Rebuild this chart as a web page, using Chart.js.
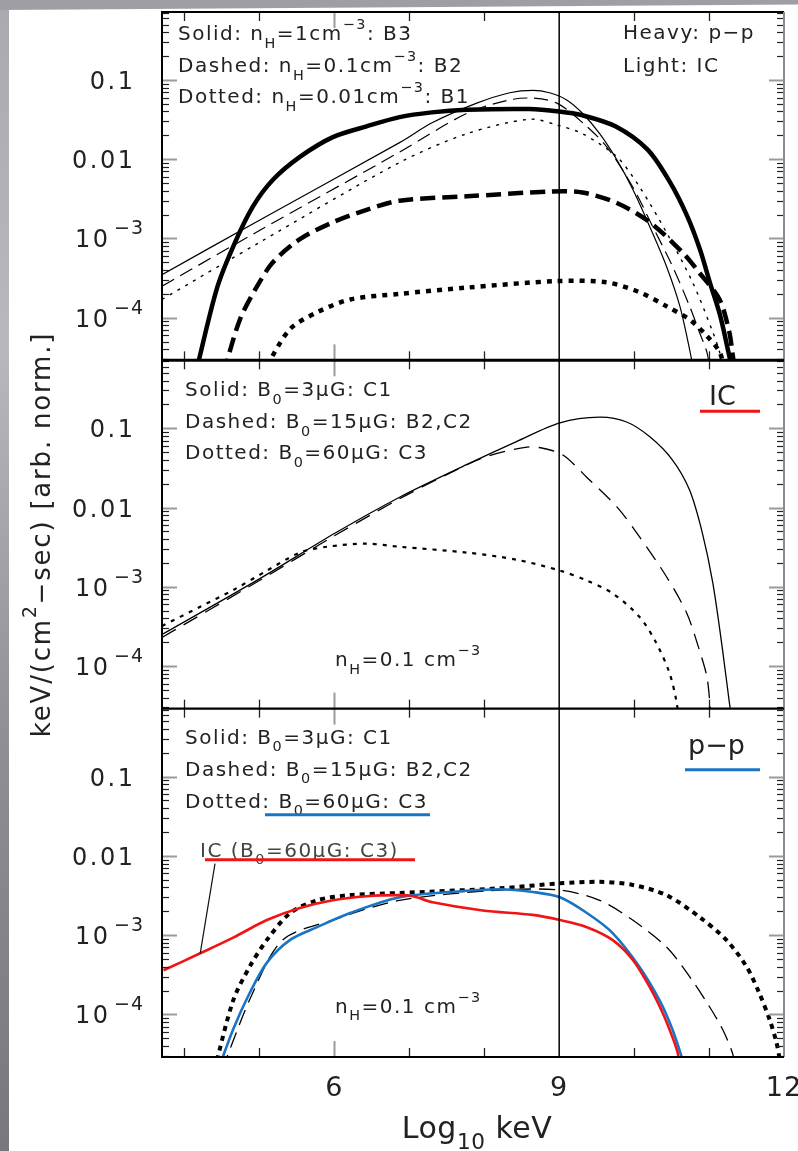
<!doctype html>
<html>

<head>
    <title>Spectra</title>
    <script src="https://cdn.jsdelivr.net/npm/chart.js"></script>
    <style>
        body { margin: 0; background: #fff; }
        #box { position: relative; width: 798px; height: 1151px; overflow: hidden; }
        #plot { position: absolute; left: 0; top: 0; width: 798px; height: 1151px; }
        #sideBar { position: absolute; left: 0; top: 0; width: 9px; height: 100%;
            background: linear-gradient(#a9a9af, #b8b8be 30%, #8e8e94 65%, #77777d); }
        #topBar { position: absolute; left: 0; top: 0; width: 100%; height: 10px; background: #9e9ea4;
            clip-path: polygon(0 0, 100% 0, 100% 45%, 0 100%); }
    </style>
</head>

<body>
    <div id="box">
        <div id="plot"><canvas id="spectra"></canvas></div>
        <div id="sideBar"></div>
        <div id="topBar"></div>
    </div>

    <script>
        // ---- data (x = log10 keV) ----
        // top panel: p-p (heavy) and IC (light) for three densities
        const xPpN1 = [4.15, 4.43, 4.65, 4.91, 5.18, 5.54, 5.98, 6.43, 6.87, 7.3, 7.76, 8.6, 9.0, 9.3, 9.75, 10.18, 10.48, 10.71, 10.88, 11.01, 11.15, 11.25, 11.32];
        const ppN1 = [2.0e-5, 2.3e-4, 7.9e-4, 2.5e-3, 5.5e-3, 0.0107, 0.019, 0.026, 0.034, 0.039, 0.042, 0.043, 0.040, 0.036, 0.026, 0.0132, 5.1e-3, 1.9e-3, 7.2e-4, 2.8e-4, 1.05e-4, 4.0e-5, 2.0e-5];
        const xPpN01 = [4.52, 4.74, 4.97, 5.18, 5.54, 5.98, 6.43, 6.87, 7.77, 8.87, 9.31, 9.77, 10.21, 10.65, 10.87, 11.14, 11.27, 11.31, 11.35];
        const ppN01 = [2.0e-5, 9.5e-5, 2.5e-4, 5.0e-4, 9.8e-4, 1.6e-3, 2.3e-3, 3.0e-3, 3.4e-3, 3.9e-3, 3.8e-3, 2.8e-3, 1.6e-3, 6.6e-4, 3.7e-4, 1.7e-4, 6.6e-5, 3.7e-5, 2.0e-5];
        const xPpN001 = [5.1, 5.41, 5.77, 6.21, 6.87, 7.77, 8.97, 9.63, 10.07, 10.43, 10.74, 10.97, 11.14, 11.22];
        const ppN001 = [2.5e-5, 7.2e-5, 1.17e-4, 1.7e-4, 2.0e-4, 2.4e-4, 2.9e-4, 2.8e-4, 2.1e-4, 1.4e-4, 9.5e-5, 5.9e-5, 3.7e-5, 2.0e-5];
        const xIcN1 = [3.7, 5.0, 6.87, 7.31, 7.90, 8.34, 8.65, 8.87, 9.10, 9.31, 9.54, 9.77, 9.98, 10.21, 10.43, 10.61, 10.74, 10.80];
        const icN1 = [3.5e-4, 1.7e-3, 0.0162, 0.029, 0.051, 0.069, 0.074, 0.069, 0.056, 0.038, 0.021, 9.8e-3, 4.2e-3, 1.4e-3, 4.5e-4, 1.4e-4, 4.0e-5, 2.0e-5];
        const xIcN01 = [3.7, 5.0, 6.87, 7.77, 8.34, 8.65, 8.97, 9.31, 9.63, 9.98, 10.25, 10.51, 10.74, 10.87, 10.97, 11.02];
        const icN01 = [2.5e-4, 1.26e-3, 0.0123, 0.038, 0.056, 0.059, 0.051, 0.029, 0.0145, 4.5e-3, 1.4e-3, 4.5e-4, 1.4e-4, 6.6e-5, 3.7e-5, 2.0e-5];
        const xIcN001 = [3.7, 5.0, 6.87, 7.77, 8.61, 8.97, 9.31, 9.77, 10.07, 10.43, 10.78, 11.05, 11.14, 11.2];
        const icN001 = [1.7e-4, 8.9e-4, 9.1e-3, 0.021, 0.032, 0.027, 0.021, 0.0107, 4.5e-3, 1.2e-3, 2.8e-4, 6.6e-5, 3.7e-5, 2.0e-5];

        // middle panel: IC for three field strengths
        const xIcC1 = [3.7, 5.0, 6.0, 6.87, 7.77, 8.43, 9.01, 9.54, 9.90, 10.21, 10.51, 10.74, 10.91, 11.05, 11.18, 11.27, 11.31];
        const icC1 = [2.5e-4, 1.26e-3, 4.7e-3, 0.0135, 0.035, 0.068, 0.117, 0.138, 0.120, 0.078, 0.040, 0.0166, 4.8e-3, 1.12e-3, 1.6e-4, 3.5e-5, 2.0e-5];
        const xIcC2 = [3.7, 5.0, 6.0, 6.87, 7.5, 8.03, 8.57, 8.78, 9.05, 9.37, 9.77, 10.07, 10.43, 10.70, 10.87, 10.97, 11.01, 11.03];
        const icC2 = [2.3e-4, 1.2e-3, 4.4e-3, 0.0129, 0.026, 0.044, 0.058, 0.056, 0.046, 0.024, 0.0102, 4.3e-3, 1.35e-3, 4.7e-4, 1.6e-4, 7.4e-5, 3.5e-5, 2.0e-5];
        const xIcC3 = [3.7, 4.21, 4.65, 5.1, 5.54, 5.9, 6.43, 6.87, 7.77, 8.43, 9.01, 9.37, 9.71, 10.07, 10.29, 10.47, 10.56, 10.6];
        const icC3 = [3.2e-4, 5.6e-4, 9.1e-4, 1.6e-3, 2.7e-3, 3.2e-3, 3.5e-3, 3.2e-3, 2.7e-3, 2.2e-3, 1.6e-3, 1.2e-3, 8.3e-4, 4.2e-4, 2.0e-4, 8.3e-5, 3.8e-5, 2.0e-5];

        // bottom panel: p-p for three field strengths, plus the C3 IC curve in red
        const xPpC3 = [4.45, 4.65, 4.87, 5.10, 5.41, 5.77, 6.21, 6.87, 7.54, 8.21, 8.65, 9.01, 9.37, 9.71, 10.07, 10.34, 10.51, 10.63, 10.68];
        const ppC3 = [2.0e-5, 6.5e-5, 1.86e-4, 4.5e-4, 8.7e-4, 1.26e-3, 1.9e-3, 3.0e-3, 3.5e-3, 3.8e-3, 3.5e-3, 3.0e-3, 1.9e-3, 1.07e-3, 4.0e-4, 1.5e-4, 6.5e-5, 3.0e-5, 2.0e-5];
        const xPpC2 = [4.5, 4.91, 5.31, 5.98, 6.87, 8.21, 9.01, 9.54, 9.98, 10.43, 10.74, 11.01, 11.18, 11.31, 11.36];
        const ppC2 = [2.0e-5, 1.86e-4, 8.7e-4, 1.55e-3, 2.75e-3, 3.7e-3, 3.7e-3, 2.75e-3, 1.55e-3, 7.1e-4, 3.0e-4, 1.23e-4, 6.5e-5, 3.3e-5, 2.0e-5];
        const xPpHeavyDot = [4.4, 4.65, 4.87, 5.10, 5.41, 5.77, 6.21, 6.87, 8.21, 9.01, 9.54, 9.98, 10.43, 10.87, 11.23, 11.50, 11.67, 11.81, 11.9, 11.95];
        const ppHeavyDot = [2.0e-5, 1.5e-4, 4.0e-4, 8.7e-4, 1.9e-3, 2.75e-3, 3.2e-3, 3.4e-3, 3.9e-3, 4.5e-3, 4.7e-3, 4.3e-3, 3.2e-3, 1.7e-3, 8.7e-4, 4.0e-4, 1.86e-4, 8.5e-5, 4.4e-5, 2.5e-5];
        const xIcC3Red = [3.72, 4.21, 4.65, 5.10, 5.54, 5.98, 6.43, 6.87, 7.05, 7.31, 7.98, 8.65, 9.01, 9.37, 9.71, 9.98, 10.21, 10.38, 10.51, 10.58, 10.62];
        const icC3Red = [3.6e-4, 5.9e-4, 9.3e-4, 1.55e-3, 2.2e-3, 2.75e-3, 3.1e-3, 3.2e-3, 3.1e-3, 2.6e-3, 2.05e-3, 1.8e-3, 1.55e-3, 1.26e-3, 8.7e-4, 4.9e-4, 2.2e-4, 1.05e-4, 5.2e-5, 3.3e-5, 2.0e-5];

        // axes
        const xMin = 3.7, xMax = 12;
        const yMin = 2.9e-5, yMax = 0.72;
        const xTickValues = [6, 9, 12];
        const yTickValues = [0.1, 0.01, 1e-3, 1e-4];
        const yTickText = ['0.1', '0.01', '10^−3', '10^−4'];

        const FONT = '"DejaVu Sans", sans-serif';
        const RED = '#f01414';
        const BLUE = '#1a74c6';

        function pts(xs, ys) {
            return xs.map((x, i) => ({ x: x, y: ys[i] }));
        }

        function line(xs, ys, axis, width, dash, color) {
            return {
                data: pts(xs, ys),
                yAxisID: axis,
                borderColor: color || '#000',
                borderWidth: width,
                borderDash: dash || [],
                borderCapStyle: 'butt',
                pointRadius: 0,
                fill: false,
                tension: 0.3
            };
        }

        function panelAxis() {
            return {
                type: 'logarithmic',
                position: 'left',
                stack: 'panels',
                stackWeight: 1,
                min: yMin,
                max: yMax,
                ticks: { display: false },
                grid: { display: false, drawTicks: false },
                border: { display: false }
            };
        }

        function seg(ctx, x1, y1, x2, y2, color, w) {
            ctx.beginPath();
            ctx.strokeStyle = color;
            ctx.lineWidth = w;
            ctx.moveTo(x1, y1);
            ctx.lineTo(x2, y2);
            ctx.stroke();
        }

        // text with "_sub" and "^sup" pieces
        function rich(ctx, parts, x, y, size, spacing, draw) {
            var cx = x;
            parts.forEach(p => {
                var fs = size, dy = 0, t = p;
                if (p[0] === '_') { fs = size * 0.72; dy = size * 0.38; t = p.slice(1); }
                else if (p[0] === '^') { fs = size * 0.72; dy = -size * 0.55; t = p.slice(1); }
                ctx.font = fs + 'px ' + FONT;
                ctx.letterSpacing = spacing + 'px';
                if (draw !== false) ctx.fillText(t, cx, y + dy);
                cx += ctx.measureText(t).width;
            });
            return cx;
        }

        const decorations = {
            id: 'decorations',
            afterDraw(chart) {
                const ctx = chart.ctx;
                const xs = chart.scales.x;
                const L = xs.left, R = xs.right;
                const panels = [chart.scales.yTop, chart.scales.yMid, chart.scales.yBot];
                ctx.save();
                ctx.lineCap = 'butt';

                panels.forEach(s => {
                    const T = s.top, B = s.bottom;
                    for (var e = -5; e <= 0; e++) {
                        for (var m = 1; m <= 9; m++) {
                            const v = m * Math.pow(10, e);
                            if (v < s.min || v > s.max) continue;
                            const py = Math.round(s.getPixelForValue(v)) + 0.5;
                            if (m === 1) {
                                seg(ctx, L, py, L + 15, py, '#9a9a9a', 2);
                                seg(ctx, R, py, R - 15, py, '#9a9a9a', 2);
                            } else {
                                seg(ctx, L, py, L + 7, py, '#222', 1.2);
                                seg(ctx, R, py, R - 7, py, '#222', 1.2);
                            }
                        }
                    }
                    for (var t = 4; t <= 11; t++) {
                        if (t === 9) continue;
                        const px = Math.round(xs.getPixelForValue(t)) + 0.5;
                        const grey = t === 6;
                        const len = grey ? 16 : 9;
                        const col = grey ? '#9a9a9a' : '#222';
                        seg(ctx, px, T, px, T + len, col, grey ? 2 : 1.3);
                        seg(ctx, px, B, px, B - len, col, grey ? 2 : 1.3);
                    }
                });

                // vertical reference line at 10^9 keV
                const p9 = xs.getPixelForValue(9);
                seg(ctx, p9, panels[0].top, p9, panels[2].bottom, '#000', 1.5);

                // frame and panel separators
                seg(ctx, L, panels[0].top, R, panels[0].top, '#000', 2);
                seg(ctx, L, panels[0].top - 1, L, panels[2].bottom + 1, '#000', 2);
                seg(ctx, R, panels[0].top, R, panels[2].bottom, '#8c8c8c', 2);
                seg(ctx, L, panels[2].bottom, R, panels[2].bottom, '#000', 2);
                seg(ctx, L, panels[1].top, R, panels[1].top, '#000', 3);
                seg(ctx, L, panels[2].top, R, panels[2].top, '#000', 2.2);

                // y tick labels
                ctx.fillStyle = '#222';
                ctx.textBaseline = 'alphabetic';
                ctx.textAlign = 'left';
                panels.forEach(s => {
                    yTickValues.forEach((v, i) => {
                        const py = s.getPixelForValue(v) + 9;
                        const txt = yTickText[i];
                        if (txt.indexOf('^') >= 0) {
                            const bits = txt.split('^');
                            ctx.font = '24px ' + FONT;
                            ctx.letterSpacing = '2.5px';
                            ctx.fillText(bits[0], 75, py);
                            ctx.font = '19px ' + FONT;
                            ctx.letterSpacing = '1px';
                            ctx.fillText(bits[1], 75 + 39, py - 13);
                        } else {
                            ctx.font = '24px ' + FONT;
                            ctx.letterSpacing = '2.5px';
                            const w = ctx.measureText(txt).width - 2.5;
                            ctx.fillText(txt, 133 - w, py);
                        }
                    });
                });

                // x tick labels
                xTickValues.forEach(v => {
                    ctx.font = '27px ' + FONT;
                    ctx.letterSpacing = '1px';
                    const w = ctx.measureText(String(v)).width;
                    ctx.fillText(String(v), xs.getPixelForValue(v) - w / 2, 1096);
                });

                // axis titles
                const xt = ['Log', '_10', ' keV'];
                const xw = rich(ctx, xt, 0, 0, 30, 0.5, false);
                rich(ctx, xt, 477 - xw / 2, 1138, 30, 0.5);

                const yt = ['keV/(cm', '^2', '−sec) [arb. norm.]'];
                const yw = rich(ctx, yt, 0, 0, 26, 1.8, false);
                ctx.save();
                ctx.translate(50, (panels[0].top + panels[2].bottom) / 2);
                ctx.rotate(-Math.PI / 2);
                rich(ctx, yt, -yw / 2, 0, 26, 1.8);
                ctx.restore();

                // panel annotations
                const sz = 20, sp = 1.5;
                var T = panels[0].top;
                rich(ctx, ['Solid: n', '_H', '=1cm', '^−3', ': B3'], 178, T + 28, sz, sp);
                rich(ctx, ['Dashed: n', '_H', '=0.1cm', '^−3', ': B2'], 178, T + 60, sz, sp);
                rich(ctx, ['Dotted: n', '_H', '=0.01cm', '^−3', ': B1'], 178, T + 91, sz, sp);
                rich(ctx, ['Heavy: p−p'], 623, T + 27, sz, sp);
                rich(ctx, ['Light: IC'], 623, T + 60, sz, sp);

                T = panels[1].top;
                rich(ctx, ['Solid: B', '_0', '=3μG: C1'], 185, T + 36, sz, sp);
                rich(ctx, ['Dashed: B', '_0', '=15μG: B2,C2'], 185, T + 68, sz, sp);
                rich(ctx, ['Dotted: B', '_0', '=60μG: C3'], 185, T + 99, sz, sp);
                rich(ctx, ['n', '_H', '=0.1 cm', '^−3'], 335, T + 306, sz, sp);
                rich(ctx, ['IC'], 709, T + 45, 27, 0);
                seg(ctx, 700, T + 51, 760, T + 51, RED, 3);

                T = panels[2].top;
                rich(ctx, ['Solid: B', '_0', '=3μG: C1'], 185, T + 35, sz, sp);
                rich(ctx, ['Dashed: B', '_0', '=15μG: B2,C2'], 185, T + 67, sz, sp);
                rich(ctx, ['Dotted: B', '_0', '=60μG: C3'], 185, T + 99, sz, sp);
                seg(ctx, 265, T + 106, 430, T + 106, BLUE, 3);
                rich(ctx, ['n', '_H', '=0.1 cm', '^−3'], 335, T + 304, sz, sp);
                rich(ctx, ['p−p'], 688, T + 45, 27, 0);
                seg(ctx, 685, T + 61, 760, T + 61, BLUE, 3);
                ctx.fillStyle = '#444';
                rich(ctx, ['IC (B', '_0', '=60μG: C3)'], 200, T + 148, sz, sp);
                seg(ctx, 205, T + 151, 415, T + 151, RED, 3);
                // leader from the IC label down to its curve
                seg(ctx, 215, T + 155, xs.getPixelForValue(xIcC3Red[1]), panels[2].getPixelForValue(icC3Red[1]), '#111', 1.2);

                ctx.restore();
            }
        };

        new Chart(document.getElementById('spectra').getContext('2d'), {
            type: 'line',
            data: {
                datasets: [
                    line(xIcC3Red, icC3Red, 'yBot', 2.6, [], RED),
                    line(xPpC3, ppC3, 'yBot', 2.6, [], BLUE),
                    line(xPpC2, ppC2, 'yBot', 1.3, [16, 8]),
                    line(xPpHeavyDot, ppHeavyDot, 'yBot', 4, [5, 5]),

                    line(xIcC1, icC1, 'yMid', 1.3),
                    line(xIcC2, icC2, 'yMid', 1.3, [16, 9]),
                    line(xIcC3, icC3, 'yMid', 2.2, [4, 6]),

                    line(xIcN1, icN1, 'yTop', 1.2),
                    line(xIcN01, icN01, 'yTop', 1.2, [14, 7]),
                    line(xIcN001, icN001, 'yTop', 1.4, [3, 6]),
                    line(xPpN1, ppN1, 'yTop', 4.5),
                    line(xPpN01, ppN01, 'yTop', 4.5, [15, 7]),
                    line(xPpN001, ppN001, 'yTop', 4.5, [5, 6])
                ]
            },
            options: {
                responsive: true,
                maintainAspectRatio: false,
                animation: false,
                layout: { padding: { left: 162, right: 14, top: 12, bottom: 94 } },
                plugins: { legend: { display: false }, tooltip: { enabled: false } },
                scales: {
                    x: {
                        type: 'linear',
                        min: xMin,
                        max: xMax,
                        ticks: { display: false },
                        grid: { display: false, drawTicks: false },
                        border: { display: false }
                    },
                    // defined bottom-up: the last one in a stack ends up on top
                    yBot: panelAxis(),
                    yMid: panelAxis(),
                    yTop: panelAxis()
                }
            },
            plugins: [decorations]
        });
    </script>
</body>

</html>
